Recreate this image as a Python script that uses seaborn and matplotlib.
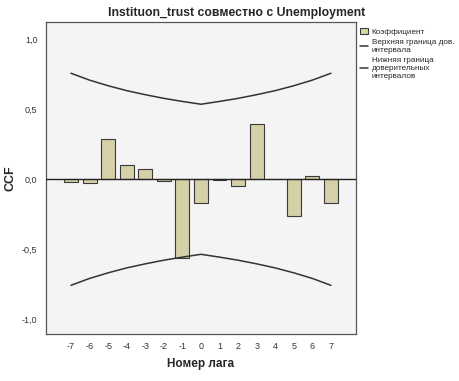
import numpy as np
import pandas as pd
import matplotlib
matplotlib.use("Agg")
import matplotlib.pyplot as plt
from matplotlib.patches import Patch
from matplotlib.lines import Line2D
import seaborn as sns

# cross-correlation values
lags = [-7, -6, -5, -4, -3, -2, -1, 0, 1, 2, 3, 4, 5, 6, 7]
ccf = [-0.016, -0.03, 0.29, 0.10, 0.07, -0.015, -0.56, -0.17,
       -0.005, -0.045, 0.395, 0.003, -0.26, 0.02, -0.17]
upper = [0.756, 0.707, 0.667, 0.632, 0.603, 0.577, 0.555, 0.535,
         0.555, 0.577, 0.603, 0.632, 0.667, 0.707, 0.756]
lower = [-u for u in upper]
yticks = [-1.0, -0.5, 0.0, 0.5, 1.0]
ytick_labels = ["-1,0", "-0,5", "0,0", "0,5", "1,0"]

sns.set_style("white")
plt.rcParams['font.family'] = ['Liberation Sans', 'DejaVu Sans']

df = pd.DataFrame({"lag": lags, "ccf": ccf, "upper": upper, "lower": lower})

fig = plt.figure(figsize=(4.59, 3.81), dpi=100)
ax = fig.add_axes([0.0996, 0.1234, 0.676, 0.818])
ax.set_facecolor("#f4f4f4")

bar_col = "#dcd6a0"
sns.barplot(data=df, x="lag", y="ccf", native_scale=True, width=0.75,
            color=bar_col, edgecolor="#3a3a3a", linewidth=0.8, ax=ax, zorder=3)
sns.lineplot(data=df, x="lag", y="upper", color="#333333", lw=1.1, ax=ax, zorder=4)
sns.lineplot(data=df, x="lag", y="lower", color="#333333", lw=1.1, ax=ax, zorder=4)
ax.axhline(0, color="#222222", lw=1.0, zorder=5)

ax.set_xlim(-8.36, 8.35)
ax.set_ylim(-1.103, 1.119)
ax.set_xticks(lags)
ax.set_xticklabels([str(l) for l in lags], fontsize=6.5, color="#333333")
ax.set_yticks(yticks)
ax.set_yticklabels(ytick_labels, fontsize=6.5, color="#333333")
ax.tick_params(axis="both", direction="out", length=4, width=0.8, color="#555555", pad=2)
for s in ax.spines.values():
    s.set_color("#555555")
    s.set_linewidth(0.9)

ax.set_xlabel("Номер лага", fontsize=8.5, fontweight="bold", labelpad=5)
ax.set_ylabel("CCF", fontsize=9, fontweight="bold", labelpad=4)
# SPSS centres the title over the whole chart, not just the plot area
fig.text(0.515, 0.965, "Instituon_trust совместно с Unemployment",
         ha="center", va="center", fontsize=8.8, fontweight="bold")

handles = [Patch(facecolor=bar_col, edgecolor="#3a3a3a", lw=0.8),
           Line2D([], [], color="#333333", lw=1.1),
           Line2D([], [], color="#333333", lw=1.1)]
labels = ["Коэффициент", "Верхняя граница дов.\nинтервала",
          "Нижняя граница\nдоверительных\nинтервалов"]
fig.legend(handles, labels, loc="upper left", bbox_to_anchor=(0.772, 0.942),
           frameon=False, fontsize=5.9, handlelength=1.0, handleheight=0.8,
           handletextpad=0.4, labelspacing=0.35, borderpad=0.2)

fig.savefig("out.png", dpi=100)
